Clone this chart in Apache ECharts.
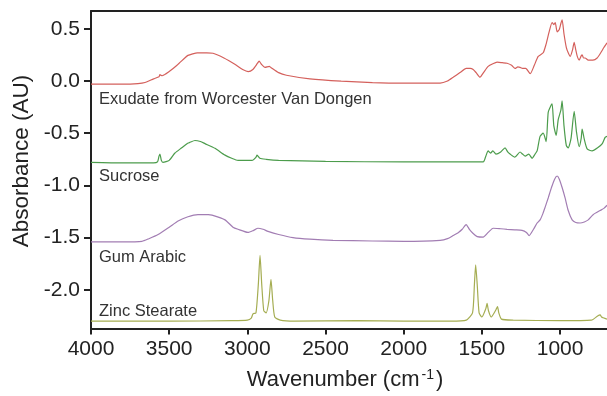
<!DOCTYPE html>
<html>
<head>
<meta charset="utf-8">
<script src="https://cdn.jsdelivr.net/npm/echarts@6.0.0/dist/echarts.min.js"></script>
<style>
  html, body { margin: 0; padding: 0; background: #fff; }
  #chart { width: 607px; height: 396px; }
</style>
</head>
<body>
<div id="chart"></div>
<script>
// spectra: [wavenumber cm-1, absorbance AU]
const exudate = [
  [4000, -0.03], [3800, -0.03], [3700, -0.025], [3655, -0.015], [3600, 0.02], [3565, 0.04],
  [3559, 0.06], [3545, 0.05], [3500, 0.09], [3450, 0.15], [3400, 0.22], [3380, 0.245],
  [3350, 0.26], [3320, 0.27], [3260, 0.27], [3220, 0.265], [3150, 0.22], [3080, 0.16],
  [3030, 0.11], [2995, 0.09], [2965, 0.11], [2935, 0.17], [2925, 0.19], [2910, 0.16],
  [2887, 0.13], [2860, 0.14], [2850, 0.13], [2800, 0.08], [2750, 0.055], [2600, 0.02],
  [2400, -0.002], [2200, -0.015], [2000, -0.02], [1767, -0.02], [1720, 0.0], [1684, 0.035],
  [1640, 0.08], [1600, 0.12], [1575, 0.12], [1556, 0.11], [1537, 0.08], [1512, 0.036],
  [1490, 0.08], [1460, 0.14], [1430, 0.165], [1403, 0.18], [1370, 0.175], [1339, 0.17],
  [1310, 0.15], [1288, 0.12], [1270, 0.135], [1256, 0.13], [1240, 0.12], [1220, 0.12],
  [1191, 0.07], [1165, 0.15], [1140, 0.235], [1108, 0.27], [1090, 0.35], [1070, 0.47],
  [1051, 0.56], [1040, 0.54], [1031, 0.56], [1019, 0.47], [1006, 0.49], [995, 0.55],
  [987, 0.585], [975, 0.45], [960, 0.32], [948, 0.27], [935, 0.235], [920, 0.3],
  [910, 0.37], [900, 0.3], [891, 0.24], [878, 0.2], [865, 0.24], [859, 0.25], [850, 0.22],
  [840, 0.22], [820, 0.2], [790, 0.2], [763, 0.22], [740, 0.27], [720, 0.32], [700, 0.365]
];
const sucrose = [
  [4000, -0.78], [3800, -0.785], [3600, -0.785], [3575, -0.775], [3565, -0.72], [3559, -0.70],
  [3550, -0.76], [3540, -0.78], [3500, -0.76], [3463, -0.69], [3420, -0.64], [3386, -0.60],
  [3370, -0.59], [3335, -0.57], [3300, -0.58], [3271, -0.60], [3207, -0.645], [3143, -0.71],
  [3100, -0.74], [3060, -0.76], [2970, -0.76], [2945, -0.73], [2938, -0.71], [2920, -0.74],
  [2880, -0.75], [2800, -0.76], [2500, -0.77], [2000, -0.775], [1700, -0.775], [1492, -0.775],
  [1475, -0.72], [1460, -0.67], [1445, -0.69], [1430, -0.67], [1410, -0.70], [1380, -0.68],
  [1352, -0.64], [1335, -0.68], [1320, -0.70], [1290, -0.73], [1256, -0.68], [1240, -0.70],
  [1223, -0.72], [1200, -0.70], [1179, -0.74], [1160, -0.70], [1147, -0.67], [1128, -0.53],
  [1108, -0.50], [1089, -0.58], [1076, -0.30], [1060, -0.24], [1051, -0.22], [1040, -0.43],
  [1025, -0.52], [1012, -0.37], [995, -0.28], [987, -0.19], [975, -0.43], [960, -0.62],
  [948, -0.64], [930, -0.55], [910, -0.29], [895, -0.49], [878, -0.63], [865, -0.55],
  [859, -0.46], [845, -0.56], [827, -0.65], [795, -0.67], [760, -0.64], [730, -0.60],
  [712, -0.54], [700, -0.53]
];
const gumArabic = [
  [4000, -1.54], [3800, -1.54], [3674, -1.535], [3630, -1.51], [3571, -1.47], [3500, -1.40],
  [3443, -1.34], [3380, -1.30], [3316, -1.28], [3250, -1.28], [3226, -1.285], [3143, -1.33],
  [3092, -1.40], [3060, -1.42], [2996, -1.45], [2960, -1.43], [2932, -1.41], [2900, -1.42],
  [2868, -1.44], [2800, -1.47], [2708, -1.50], [2600, -1.515], [2452, -1.526], [2200, -1.532],
  [2000, -1.536], [1767, -1.527], [1720, -1.51], [1684, -1.48], [1650, -1.45], [1626, -1.42],
  [1601, -1.375], [1580, -1.42], [1556, -1.46], [1530, -1.49], [1492, -1.495], [1460, -1.45],
  [1428, -1.41], [1380, -1.415], [1339, -1.42], [1290, -1.425], [1243, -1.43], [1215, -1.45],
  [1198, -1.48], [1170, -1.42], [1147, -1.36], [1128, -1.33], [1110, -1.27], [1096, -1.21],
  [1076, -1.12], [1055, -1.02], [1035, -0.94], [1019, -0.91], [1005, -0.94], [987, -1.02],
  [968, -1.12], [948, -1.24], [923, -1.33], [900, -1.355], [872, -1.36], [845, -1.35],
  [820, -1.33], [789, -1.28], [744, -1.24], [720, -1.22], [700, -1.19]
];
const zincStearate = [
  [4000, -2.30], [3500, -2.30], [3100, -2.295], [3000, -2.29], [2975, -2.27], [2964, -2.23],
  [2945, -2.22], [2930, -1.95], [2919, -1.67], [2908, -1.95], [2895, -2.20], [2880, -2.22],
  [2862, -2.10], [2849, -1.90], [2838, -2.10], [2825, -2.26], [2790, -2.29], [2700, -2.30],
  [2300, -2.295], [2000, -2.30], [1700, -2.30], [1600, -2.29], [1560, -2.22], [1548, -1.95],
  [1540, -1.76], [1530, -1.95], [1518, -2.22], [1500, -2.26], [1475, -2.18], [1467, -2.13],
  [1458, -2.20], [1440, -2.26], [1410, -2.19], [1400, -2.16], [1392, -2.22], [1375, -2.28],
  [1300, -2.29], [1000, -2.295], [800, -2.29], [760, -2.25], [744, -2.24], [735, -2.26],
  [720, -2.27], [700, -2.28]
];
const xTicks = [4000, 3500, 3000, 2500, 2000, 1500, 1000];
const yTicks = [0.5, 0, -0.5, -1.0, -1.5, -2.0];
const labels = ['Exudate from Worcester Van Dongen', 'Sucrose', 'Gum Arabic', 'Zinc Stearate'];

const font = 'Liberation Sans, Arial, sans-serif';
const chart = echarts.init(document.getElementById('chart'));

function spectrum(name, data, color) {
  return {
    name: name,
    type: 'line',
    data: data,
    symbol: 'none',
    smooth: 0.2,
    lineStyle: { color: color, width: 1.2 },
    xAxisIndex: 0
  };
}

const labelTops = [91, 168, 249, 303];

chart.setOption({
  animation: false,
  textStyle: { fontFamily: font },
  grid: { left: 91, right: 0, top: 11, bottom: 64 },
  xAxis: [{
    type: 'value',
    inverse: true,
    min: 700,
    max: 4000,
    name: 'Wavenumber (cm{s|-1})',
    nameLocation: 'middle',
    nameGap: 40,
    nameTextStyle: {
      fontSize: 22, color: '#222', padding: [0, 8, 0, 0],
      rich: { s: { fontSize: 14, color: '#222', verticalAlign: 'top', padding: [0, 2, 9, 2] } }
    },
    splitLine: { show: false },
    axisLine: { onZero: false, lineStyle: { color: '#222', width: 2 } },
    axisTick: { length: 6, lineStyle: { color: '#222', width: 2 }, customValues: xTicks },
    axisLabel: { fontSize: 21, color: '#222', margin: 10, customValues: xTicks, formatter: v => String(v) }
  }, {
    type: 'value',
    position: 'top',
    inverse: true,
    min: 700,
    max: 4000,
    splitLine: { show: false },
    axisLine: { onZero: false, lineStyle: { color: '#222', width: 2 } },
    axisTick: { show: false },
    axisLabel: { show: false }
  }],
  yAxis: {
    type: 'value',
    min: -2.37,
    max: 0.67,
    splitLine: { show: false },
    axisLine: { show: true, onZero: false, lineStyle: { color: '#222', width: 2 } },
    axisTick: { show: true, length: 7, lineStyle: { color: '#222', width: 2 }, customValues: yTicks },
    axisLabel: {
      fontSize: 21, color: '#222', margin: 11, customValues: yTicks,
      formatter: v => v.toFixed(1)
    }
  },
  graphic: [{
    type: 'text',
    x: 22,
    y: 161,
    rotation: Math.PI / 2,
    style: {
      text: 'Absorbance (AU)', fontSize: 22.5, fill: '#222', fontFamily: font,
      align: 'center', verticalAlign: 'middle'
    }
  }].concat(labels.map((t, i) => ({
    type: 'text',
    left: 99,
    top: labelTops[i],
    style: { text: t, fontSize: 16.5, fill: '#333', fontFamily: font }
  }))),
  series: [
    spectrum(labels[0], exudate, '#d4605c'),
    spectrum(labels[1], sucrose, '#4c9c4c'),
    spectrum(labels[2], gumArabic, '#a27db3'),
    spectrum(labels[3], zincStearate, '#a5ad52')
  ]
});
</script>
</body>
</html>
